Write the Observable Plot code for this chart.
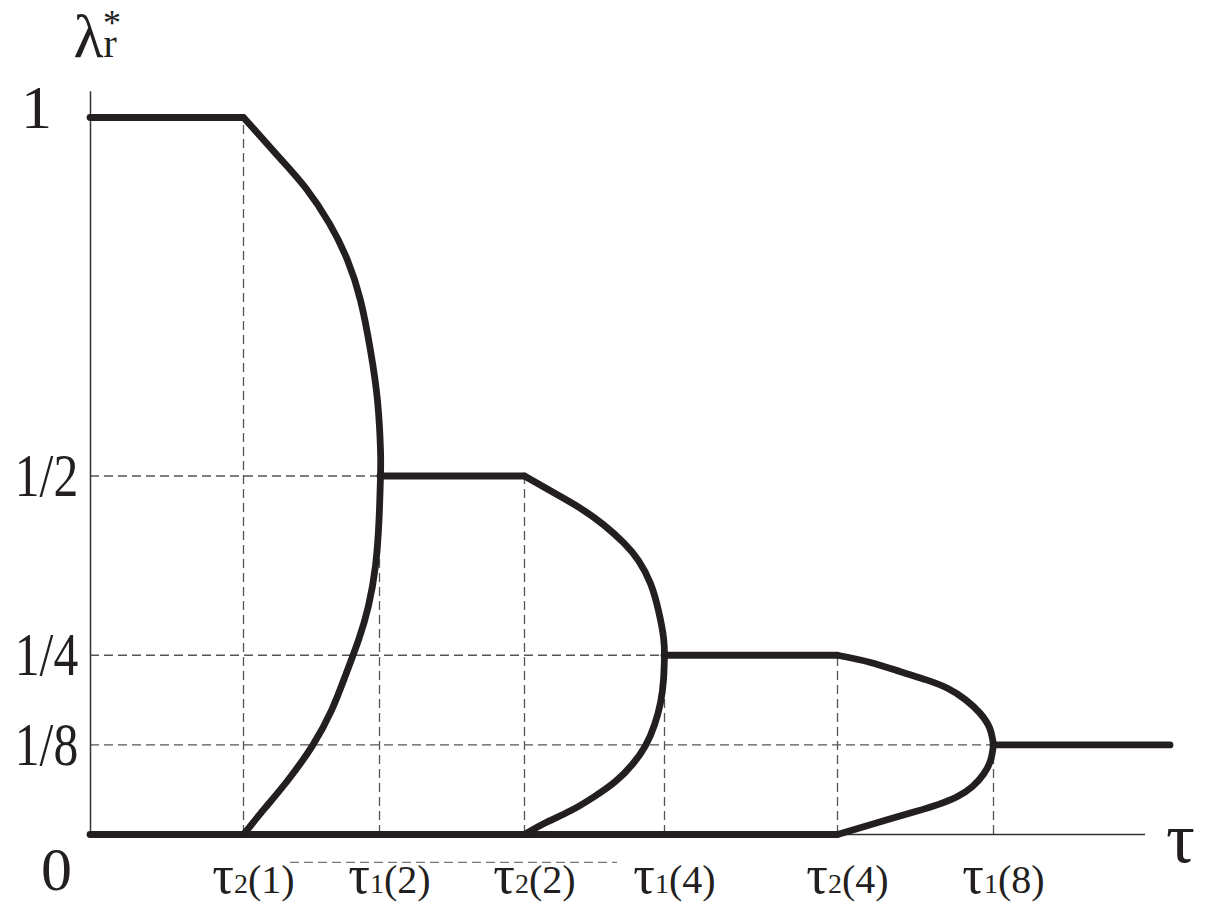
<!DOCTYPE html>
<html><head><meta charset="utf-8">
<script src="https://cdn.jsdelivr.net/npm/d3@7"></script>
<script src="https://cdn.jsdelivr.net/npm/@observablehq/plot@0.6"></script>
<style>body{margin:0;background:#fff} svg{display:block}</style>
</head><body><div id="chart"></div>
<script>
// tick positions on the tau axis (arbitrary units) and their labels
const tauTicks = [1.53, 2.89, 4.34, 5.74, 7.47, 9.03];
const tauSub = ["2", "1", "2", "1", "2", "1"];
const tauArg = ["1", "2", "2", "4", "4", "8"];
// lambda levels and labels
const levels = [1, 0.5, 0.25, 0.125, 0];
const levelLabels = ["1", "1/2", "1/4", "1/8", "0"];
// plateaus (horizontal pieces of the thick curve)
const plateauStart = [0, 2.90, 5.74, 9.03, 0];
const plateauEnd = [1.53, 4.34, 7.47, 10.8, 7.47];
const plateauLevel = [1, 0.5, 0.25, 0.125, 0];
// bifurcation branches
const upperA_x = [1.53, 1.89, 2.15, 2.39, 2.57, 2.70, 2.80, 2.87, 2.90, 2.90];
const upperA_y = [1, 0.944, 0.902, 0.852, 0.801, 0.745, 0.675, 0.605, 0.536, 0.5];
const lowerA_x = [2.90, 2.885, 2.85, 2.78, 2.68, 2.55, 2.41, 2.22, 1.97, 1.74, 1.53];
const lowerA_y = [0.5, 0.438, 0.375, 0.319, 0.271, 0.222, 0.173, 0.124, 0.075, 0.036, 0];
const upperC_x = [4.34, 4.63, 4.90, 5.13, 5.33, 5.48, 5.60, 5.68, 5.73, 5.74];
const upperC_y = [0.5, 0.477, 0.455, 0.432, 0.407, 0.382, 0.350, 0.312, 0.275, 0.25];
const lowerC_x = [5.74, 5.73, 5.70, 5.64, 5.55, 5.42, 5.25, 5.04, 4.80, 4.56, 4.34];
const lowerC_y = [0.25, 0.216, 0.184, 0.153, 0.124, 0.098, 0.074, 0.053, 0.033, 0.017, 0];
const upperD_x = [7.47, 7.80, 8.10, 8.35, 8.57, 8.75, 8.89, 8.99, 9.03];
const upperD_y = [0.25, 0.240, 0.227, 0.216, 0.204, 0.188, 0.170, 0.149, 0.125];
const lowerD_x = [9.03, 9.00, 8.93, 8.82, 8.67, 8.48, 8.25, 8.00, 7.74, 7.47];
const lowerD_y = [0.125, 0.103, 0.084, 0.067, 0.053, 0.042, 0.032, 0.022, 0.011, 0];
// dashed guide tops
const guideTop = [1, 0.5, 0.5, 0.25, 0.25, 0.125];
const guideLevels = [0.5, 0.25, 0.125];
const guideEnd = [2.90, 5.74, 9.03];
// stray dashed line under the axis
const strayX = [2.0, 5.27];
const strayY = -0.039;
const axisEnd = 10.55;
const yAxisTop = 1.036;

const branches = [
  [upperA_x, upperA_y], [lowerA_x, lowerA_y],
  [upperC_x, upperC_y], [lowerC_x, lowerC_y],
  [upperD_x, upperD_y], [lowerD_x, lowerD_y]
];
const branchRows = branches.flatMap(([xs, ys], k) => xs.map((x, i) => ({x, y: ys[i], k})));
const plateauRows = plateauStart.map((s, i) => ({x1: s, x2: plateauEnd[i], y: plateauLevel[i]}));
const vGuides = tauTicks.map((x, i) => ({x, y2: guideTop[i]}));
const hGuides = guideLevels.map((y, i) => ({y, x2: guideEnd[i]}));
const tickRows = tauTicks.map((x, i) => ({x, label: "τ" + tauSub[i] + "(" + tauArg[i] + ")"}));
const levelRows = levels.map((y, i) => ({y, label: levelLabels[i]}));

const ink = "#231f20";
const serif = "Liberation Serif, Times New Roman, serif";
const dash = "9,5";

const chart = Plot.plot({
  width: 1208, height: 905,
  marginLeft: 90, marginRight: 38, marginTop: 117, marginBottom: 71,
  x: {domain: [0, 10.8], axis: null},
  y: {domain: [0, 1], axis: null},
  style: {fontFamily: serif, background: "#fff"},
  marks: [
    Plot.ruleX(vGuides, {x: "x", y1: 0, y2: "y2", stroke: "#555", strokeWidth: 1.3, strokeDasharray: dash}),
    Plot.ruleY(hGuides, {y: "y", x1: 0, x2: "x2", stroke: "#555", strokeWidth: 1.3, strokeDasharray: dash}),
    Plot.ruleY([strayY], {x1: strayX[0], x2: strayX[1], stroke: "#777", strokeWidth: 1.3, strokeDasharray: dash}),
    Plot.ruleY([0], {x1: 0, x2: axisEnd, stroke: "#333", strokeWidth: 1.5}),
    Plot.ruleX([0], {y1: 0, y2: yAxisTop, stroke: "#333", strokeWidth: 1.5}),
    Plot.ruleY(plateauRows, {y: "y", x1: "x1", x2: "x2", stroke: ink, strokeWidth: 6.8, strokeLinecap: "round"}),
    Plot.line(branchRows, {x: "x", y: "y", z: "k", stroke: ink, strokeWidth: 6.8, curve: "natural", strokeLinecap: "round", strokeLinejoin: "round"}),
    Plot.text(tickRows, {x: "x", text: "label", frameAnchor: "bottom", lineAnchor: "middle", dy: 46, dx: 10, fontSize: 40, fill: ink}),
    Plot.text(levelRows.filter(d => d.label === "1"), {y: "y", text: "label", frameAnchor: "left", lineAnchor: "middle", dx: -54, dy: -9, fontSize: 62, fill: ink, textAnchor: "middle"}),
    Plot.text(levelRows.filter(d => d.label.includes("/")), {y: "y", text: "label", frameAnchor: "left", lineAnchor: "middle", dx: -44, dy: 0, fontSize: 62, fill: ink, textAnchor: "middle"}),
    Plot.text(levelRows.filter(d => d.label === "0"), {y: "y", text: "label", frameAnchor: "left", lineAnchor: "middle", dx: -34, dy: 36, fontSize: 62, fill: ink, textAnchor: "middle"}),
    Plot.text(["λ"], {frameAnchor: "top-left", lineAnchor: "middle", dx: -17, dy: -80, fontSize: 62, fill: ink, textAnchor: "start"}),
    Plot.text(["τ"], {frameAnchor: "bottom-right", lineAnchor: "middle", dx: 10, dy: 4, fontSize: 72, fill: ink, textAnchor: "middle"})
  ]
});

const svg = d3.select(chart);
svg.selectAll("text").each(function() {
  const t = d3.select(this);
  const s = this.textContent;
  const ti = tickRows.findIndex(d => d.label === s);
  if (ti >= 0) {
    t.text(null);
    t.append("tspan").attr("font-size", 54).text("τ");
    t.append("tspan").attr("font-size", 28).text(tauSub[ti]);
    t.append("tspan").attr("font-size", 40).text("(" + tauArg[ti] + ")");
  } else if (s.includes("/")) {
    const tr = t.attr("transform") || "";
    t.attr("transform", tr + " scale(0.8,1)");
  } else if (s === "λ") {
    t.text(null);
    t.append("tspan").text("λ");
    t.append("tspan").attr("font-size", 40).text("r");
    t.append("tspan").attr("font-size", 36).attr("dx", -14).attr("dy", -22).text("*");
  }
});

document.getElementById("chart").append(chart);
</script>
</body></html>
